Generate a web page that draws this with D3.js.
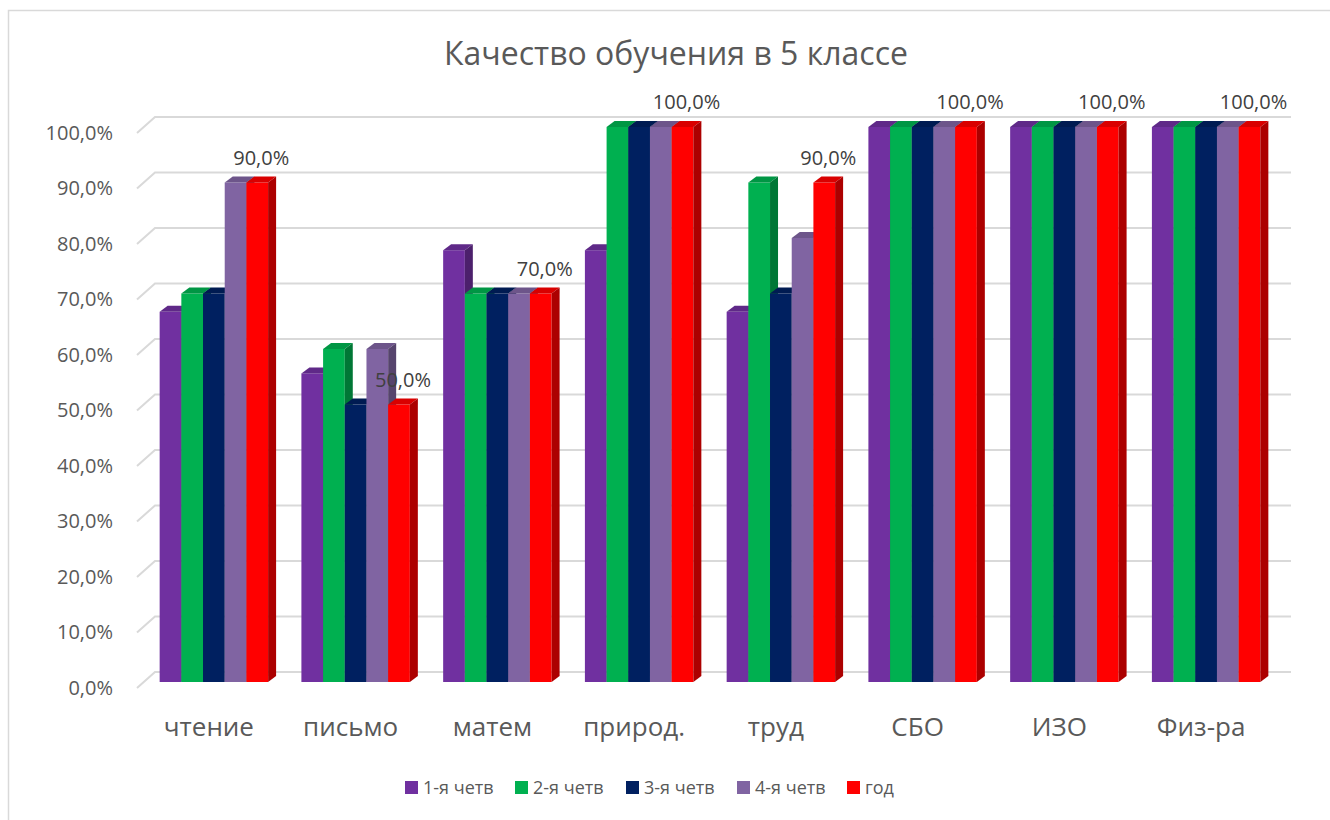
<!DOCTYPE html>
<html>
<head>
<meta charset="utf-8">
<script src="https://cdn.jsdelivr.net/npm/d3@7"></script>
<style>
  body { margin: 0; background: #fff; }
  text { font-family: "Open Sans", sans-serif; fill: #595959; }
</style>
</head>
<body>
<div id="container"></div>
<script>
/* DATA */
const categories = ["чтение", "письмо", "матем", "природ.", "труд", "СБО", "ИЗО", "Физ-ра"]
const seriesNames = ["1-я четв", "2-я четв", "3-я четв", "4-я четв", "год"]
const q1 = [0.667, 0.556, 0.778, 0.778, 0.667, 1, 1, 1]
const q2 = [0.70, 0.60, 0.70, 1, 0.90, 1, 1, 1]
const q3 = [0.70, 0.50, 0.70, 1, 0.70, 1, 1, 1]
const q4 = [0.90, 0.60, 0.70, 1, 0.80, 1, 1, 1]
const year = [0.90, 0.50, 0.70, 1, 0.90, 1, 1, 1]
const yTicks = [0, 0.1, 0.2, 0.3, 0.4, 0.5, 0.6, 0.7, 0.8, 0.9, 1]
const colors = ["#7030A0", "#00B050", "#002060", "#8064A2", "#FF0000"]

const allSeries = [q1, q2, q3, q4, year]

/* CONSTANTS */
const width = 1330, height = 820
const depthX = 18, depthY = 16   // wall depth
const barDX = 8, barDY = 6       // bar depth

const ru = d3.formatLocale({ decimal: ",", thousands: " ", grouping: [3], currency: ["", ""] })
const pct = ru.format(".1%")

/* SCALES */
const yScale = d3.scaleLinear().domain([0, 1]).range([688, 133])
const x0 = d3.scaleBand().domain(categories).range([143, 1277]).paddingInner(0.235).paddingOuter(0.1175)
const x1 = d3.scaleBand().domain(d3.range(seriesNames.length)).range([0, x0.bandwidth()])

const svg = d3.select("#container").append("svg")
  .attr("width", width).attr("height", height)

// chart border
svg.append("rect")
  .attr("x", 8.5).attr("y", 10.5).attr("width", 1340).attr("height", 830)
  .attr("fill", "none").attr("stroke", "#d9d9d9").attr("stroke-width", 1.5)

// title
svg.append("text")
  .attr("x", 676).attr("y", 65)
  .attr("text-anchor", "middle")
  .style("font-size", "32px")
  .text("Качество обучения в 5 классе")

// gridlines (3D wall)
const x0Front = 137
svg.append("g").selectAll("path")
  .data(yTicks)
  .join("path")
  .attr("d", d => {
    const y = yScale(d)
    return `M${x0Front},${y} L${x0Front + depthX},${y - depthY} L1291,${y - depthY}`
  })
  .attr("fill", "none").attr("stroke", "#d9d9d9").attr("stroke-width", 2)

// y axis
const yAxis = d3.axisLeft(yScale).tickValues(yTicks).tickFormat(pct).tickSize(0).tickPadding(24)
svg.append("g")
  .attr("transform", `translate(${x0Front},0)`)
  .call(yAxis)
  .call(g => g.select(".domain").remove())
  .selectAll("text")
  .style("font-size", "20px").attr("fill", "#595959").style("font-family", "Open Sans")

// bars
const barY = v => yScale(v) - 6
const groups = svg.append("g").selectAll("g.cat")
  .data(categories)
  .join("g")
  .attr("class", "cat")
  .attr("transform", d => `translate(${x0(d)},0)`)

groups.each(function (cat, ci) {
  const g = d3.select(this)
  allSeries.forEach((s, si) => {
    const v = s[ci]
    const x = x1(si), w = x1.bandwidth()
    const yt = barY(v), yb = barY(0)
    const c = d3.color(colors[si])
    // front
    g.append("rect").attr("x", x).attr("y", yt).attr("width", w).attr("height", yb - yt)
      .attr("fill", c)
    // top
    g.append("path")
      .attr("d", `M${x},${yt} L${x + barDX},${yt - barDY} L${x + w + barDX},${yt - barDY} L${x + w},${yt} Z`)
      .attr("fill", c.darker(0.45))
    // side
    g.append("path")
      .attr("d", `M${x + w},${yt} L${x + w + barDX},${yt - barDY} L${x + w + barDX},${yb - barDY} L${x + w},${yb} Z`)
      .attr("fill", c.darker(1.1))
  })
})

// data labels for "год"
svg.append("g").selectAll("text")
  .data(year)
  .join("text")
  .attr("x", (d, i) => x0(categories[i]) + x1(4) + x1.bandwidth() / 2 + barDX / 2)
  .attr("y", d => barY(d) - barDY - 12)
  .attr("text-anchor", "middle")
  .style("font-size", "20px")
  .style("fill", "#404040")
  .text(d => pct(d))

// category labels
svg.append("g").selectAll("text")
  .data(categories)
  .join("text")
  .attr("x", d => x0(d) + x0.bandwidth() / 2 - 5)
  .attr("y", 736)
  .attr("text-anchor", "middle")
  .style("font-size", "26px")
  .text(d => d)

// legend
const legendX = [405, 515, 626, 737, 847]
const legend = svg.append("g").selectAll("g")
  .data(seriesNames)
  .join("g")
  .attr("transform", (d, i) => `translate(${legendX[i]},781)`)
legend.append("rect").attr("width", 13).attr("height", 13).attr("fill", (d, i) => colors[i])
legend.append("text").attr("x", 18).attr("y", 13)
  .style("font-size", "18px")
  .text(d => d)
</script>
</body>
</html>
